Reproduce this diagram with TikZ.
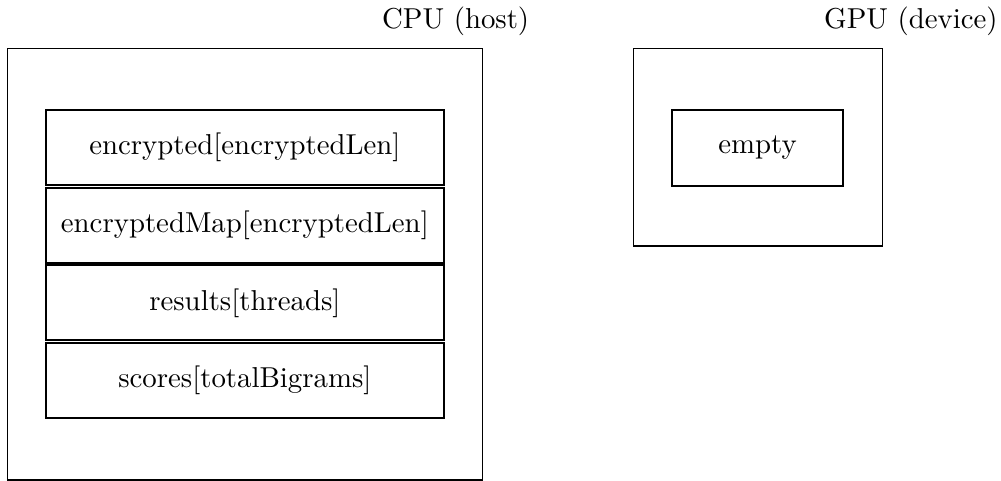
\documentclass[tikz,border=0pt]{standalone}
\usepackage{fontspec}
\setmainfont{lmroman10-regular}[Extension=.otf]
\begin{document}
\begin{tikzpicture}[x=1pt,y=-1pt,
  outerbox/.style={draw, line width=1.2pt, inner sep=0pt, outer sep=0pt},
  cell/.style={draw, line width=1.9pt, inner sep=0pt, outer sep=0pt,
    minimum height=75pt, font=\fontsize{28.8}{34}\selectfont},
  cpucell/.style={cell, minimum width=398.3pt},
  title/.style={anchor=base west, inner sep=0pt, font=\fontsize{28.8}{34}\selectfont}]
\useasboundingbox (0,0) rectangle (1001,481);
% CPU side
\node[outerbox, minimum width=474.8pt, minimum height=431.7pt] (cpu) at (244.9,264.15) {};
\node[title] (cputitle) at (382,29) {CPU (host)};
\node[cpucell] (enc)    at (244.85,147.5) {encrypted[encryptedLen]};
\node[cpucell] (encmap) at (244.85,225.2) {encryptedMap[encryptedLen]};
\node[cpucell] (res)    at (244.85,302.9) {results[threads]};
\node[cpucell] (sc)     at (244.85,380.6) {scores[totalBigrams]};
% GPU side
\node[outerbox, minimum width=249pt, minimum height=197.7pt] (gpu) at (757.8,147.15) {};
\node[title] (gputitle) at (824,29) {GPU (device)};
\node[cell, minimum width=171.6pt, minimum height=75.7pt] (empty) at (757.5,147.85) {empty};
\end{tikzpicture}
\end{document}
